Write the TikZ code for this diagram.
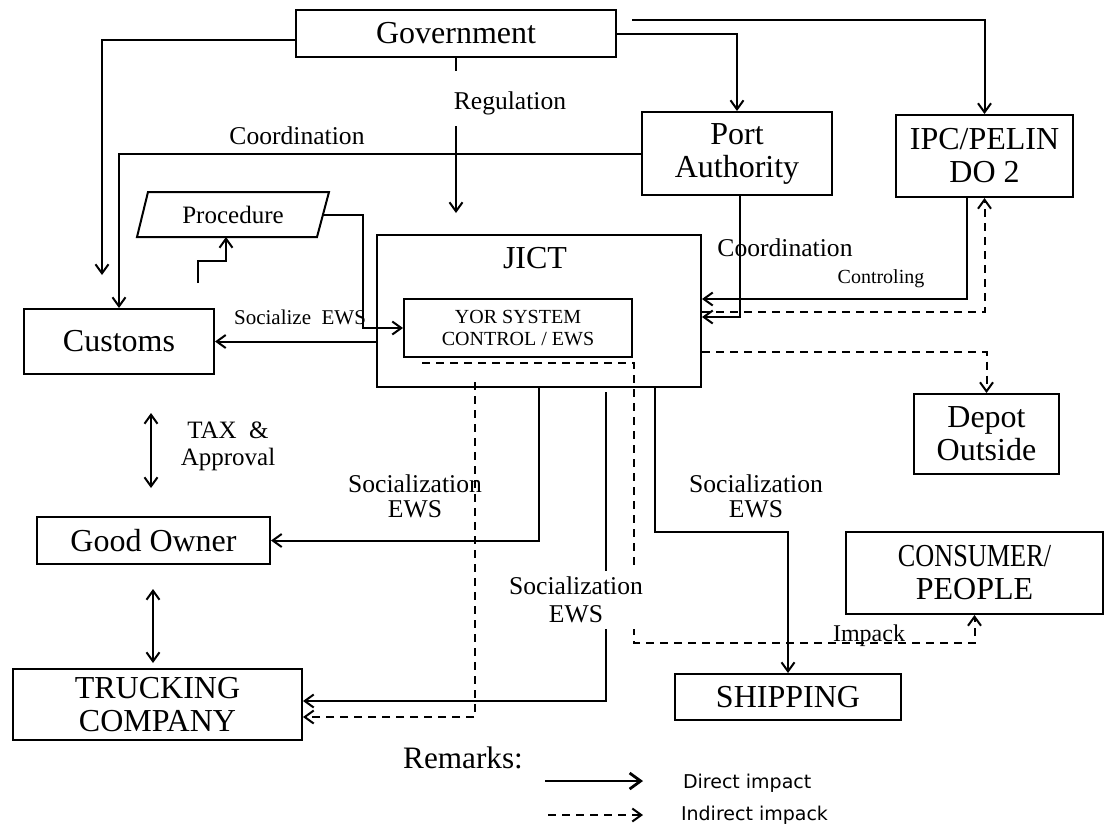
\documentclass[tikz,border=0pt]{standalone}
\usepackage{fontspec}
\setmainfont{Liberation Serif}
\newfontfamily\legendfont{DejaVu Sans}
\usetikzlibrary{arrows.meta}

\begin{document}
\begin{tikzpicture}[x=0.5pt,y=-0.5pt,line width=1pt,
    >={Straight Barb[length=4.5pt,width=6.5pt]},
    box/.style={draw,inner sep=0pt,align=center,font=\fontsize{16}{16.5}\selectfont},
    lbl/.style={inner sep=1pt,align=center,font=\fontsize{12.8}{12.5}\selectfont},
    small/.style={inner sep=1pt,font=\fontsize{10.5}{11}\selectfont},
    dsh/.style={dash pattern=on 4pt off 3pt}]
  \useasboundingbox (0,0) rectangle (1106,827);

  % boxes: name / x / y / width / height / text
  \def \Boxes{
    gov/456/33.5/320/47/Government,
    port/737/153.5/190/83/{Port\\Authority},
    ipc/984.5/156/177/82/{IPC/PELIN\\DO 2},
    jict/539/311/324/152/{},
    customs/119/341.5/190/65/Customs,
    goodowner/153.5/540.5/233/47/{Good Owner},
    trucking/157.5/704.5/289/71/{TRUCKING\\COMPANY},
    depot/986.5/434/145/80/{Depot\\Outside},
    consumer/974.5/573/257/82/{\scalebox{0.82}[1]{CONSUMER/}\\PEOPLE},
    shipping/788/697/226/46/SHIPPING}
  \foreach \id / \x / \y / \w / \h / \txt in \Boxes{
    \node[box,minimum width=\w*0.5pt,minimum height=\h*0.5pt] (\id) at (\x,\y) {\txt};
  }
  \node[box,font=\fontsize{16}{16}\selectfont,draw=none] (jicttxt) at (535,258) {JICT};
  \node[box,minimum width=114pt,minimum height=29pt,font=\fontsize{10}{11}\selectfont]
    (yor) at (518,328) {YOR SYSTEM\\CONTROL / EWS};

  % procedure (parallelogram)
  \draw (137,237) -- (148,192) -- (329,192) -- (317,237) -- cycle;
  \node[inner sep=1pt,font=\fontsize{12.5}{12.5}\selectfont] (proc) at (233,214.5) {Procedure};

  % free ends
  \coordinate (govr) at (632,20);
  \coordinate (cusa) at (102,275);
  \coordinate (regt) at (456,71);
  \coordinate (regb) at (456,126);
  \coordinate (regtip) at (456,213);
  \coordinate (procr) at (323,214.5);
  \coordinate (procb) at (226,237);
  \coordinate (steps) at (198,283);
  \coordinate (socs) at (606,392);
  \coordinate (dshl) at (475,382);
  \coordinate (yord) at (422,363);
  \coordinate (imp) at (634,643);
  \coordinate (taxt) at (151,413);
  \coordinate (taxb) at (151,488);
  \coordinate (owt) at (153,589);
  \coordinate (owb) at (153,663);

  % connectors
  \draw[->] (gov.west |- 0,40) -| (cusa);
  \draw[->] (port.west) -| (customs.north);
  \draw (gov.south) -- (regt);
  \draw[->] (regb) -- (regtip);
  \draw[->] (gov.east |- 0,34) -| (port.north);
  \draw[->] (govr) -| (ipc.north);
  \draw[dsh,->] (jict.east |- 0,312) -| (ipc.south);
  \draw[->] (port.south -| 740,0) |- (jict.east |- 0,317);
  \draw[->] (ipc.south -| 967,0) |- (jict.east |- 0,299);
  \draw[->] (procr) -| (yor.west -| 363,0) -- (yor.west);
  \draw[->] (steps) -- (198,261) -| (procb);
  \draw[->] (jict.west |- customs.east) -- (customs.east);
  \draw[<->] (taxt) -- (taxb);
  \draw[<->] (owt) -- (owb);
  \draw[->] (jict.south) |- (goodowner.east);
  \draw[dsh,->] (dshl) |- (trucking.east |- 0,717);
  \draw[->] (socs) |- (trucking.east |- 0,701);
  \draw[dsh,->] (yord) -| (imp) -| (consumer.south);
  \draw[dsh,->] (jict.east |- 0,352) -| (depot.north);
  \draw[->] (jict.south -| 655,0) |- (shipping.north |- 0,532) -- (shipping.north);

  % labels
  \node[lbl] (regl) at (510,103) {Regulation};
  \node[lbl] (coordl) at (297,136) {Coordination};
  \node[lbl] (coordr) at (785,248) {Coordination};
  \node[small,font=\fontsize{10}{10}\selectfont] (ctrl) at (881,279) {Controling};
  \node[small] (socz) at (300,317) {Socialize\ \ EWS};
  \node[lbl,font=\fontsize{12.5}{13.5}\selectfont] (tax) at (228,446) {TAX\ \ \&\\Approval};
  \node[lbl] (socl) at (415,496) {Socialization\\EWS};
  \node[lbl] (socr) at (756,496) {Socialization\\EWS};
  \node[lbl,fill=white,inner sep=3pt,font=\fontsize{12.8}{14}\selectfont] (socm) at (576,600) {Socialization\\EWS};
  \node[lbl,font=\fontsize{12}{12}\selectfont] (impl) at (869,636) {Impack};

  % remarks
  \node[font=\fontsize{15.6}{16}\selectfont] (remarks) at (463,758) {Remarks:};
  \coordinate (la) at (545,781);
  \coordinate (lb) at (643,781);
  \coordinate (lc) at (548,815);
  \coordinate (ld) at (643,815);
  \draw[->,line width=1.4pt,>={Straight Barb[length=5.5pt,width=8pt]}] (la) -- (lb);
  \draw[dsh,->] (lc) -- (ld);
  \node[anchor=west,inner sep=0pt,font=\legendfont\fontsize{9.5}{10}\selectfont] (direct) at (682,783) {Direct impact};
  \node[anchor=west,inner sep=0pt,font=\legendfont\fontsize{9.5}{10}\selectfont] (indirect) at (680,815) {Indirect impack};
\end{tikzpicture}
\end{document}
